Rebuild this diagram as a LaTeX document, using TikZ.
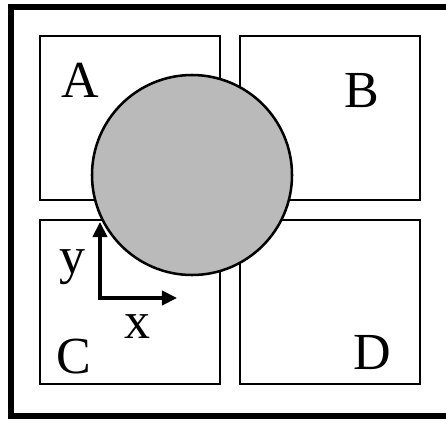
\documentclass[tikz,border=0pt]{standalone}
\usepackage{fontspec}
\setmainfont{Liberation Serif}
\usetikzlibrary{arrows.meta, positioning}

\begin{document}
\begin{tikzpicture}[
    node distance=0.45cm,
    quad/.style={draw, line width=1.5pt, minimum width=4.5cm,
                 minimum height=4.1cm, inner sep=0pt},
    disc/.style={circle, draw, line width=1.8pt, fill=black!27,
                 minimum size=5cm, inner sep=0pt},
    lbl/.style={font=\fontsize{37}{40}\selectfont, anchor=base, inner sep=0pt},
    axis/.style={line width=2.4pt,
                 {Triangle[length=0.38cm, width=0.36cm]}-{Triangle[length=0.38cm, width=0.36cm]}},
  ]
    \useasboundingbox (0,0) rectangle (11.15,10.525);
    % outer frame, right side runs off the picture
    \draw[line width=4pt] (11.3,10.35) -- (0.275,10.35) -- (0.275,0.125) -- (11.3,0.125);

    \node[quad] (qa) at (3.25,7.575) {};
    \node[quad, right=of qa] (qb) {};
    \node[quad, below=of qa] (qc) {};
    \node[quad, right=of qc] (qd) {};

    \node[disc] (disc) at (4.8,6.15) {};

    \node[lbl] (la) at (2.0,8.1) {A};
    \node[lbl] (lb) at (9.05,7.85) {B};
    \node[lbl] (lc) at (1.85,1.2) {C};
    \node[lbl] (ld) at (9.3,1.3) {D};

    % axes
    \coordinate (o) at (2.5,3.075);
    \coordinate (ytip) at (2.5,4.975);
    \coordinate (xtip) at (4.425,3.075);
    \draw[axis] (ytip) -- (o) -- (xtip);
    \node[lbl] (ly) at (1.825,3.7) {y};
    \node[lbl] (lx) at (3.45,2.075) {x};
  \end{tikzpicture}
\end{document}
